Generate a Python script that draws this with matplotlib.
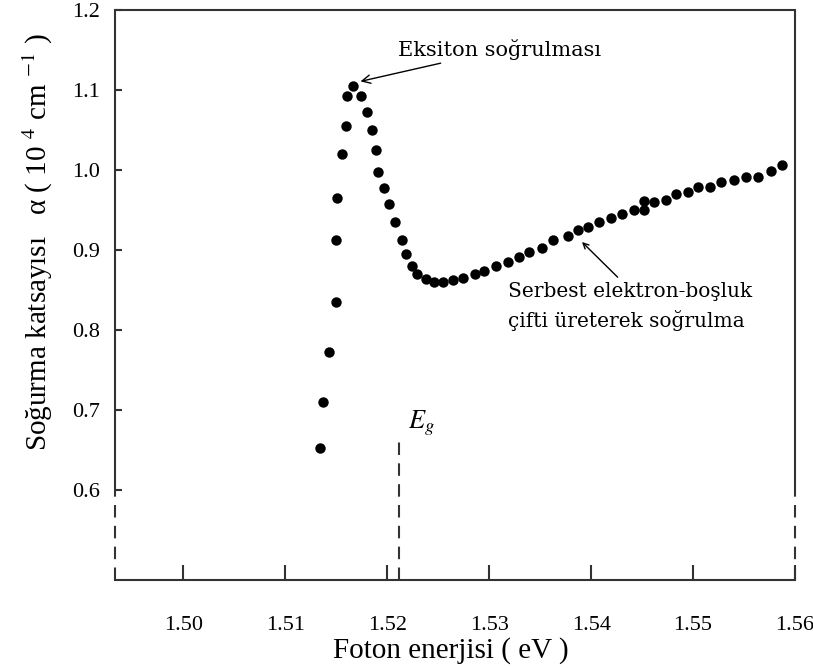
import matplotlib
matplotlib.use("Agg")
import matplotlib.pyplot as plt

plt.rcParams['font.family'] = ['Liberation Serif', 'DejaVu Serif']
plt.rcParams['mathtext.fontset'] = 'stix'

# Photon energy (eV) and absorption coefficient (10^4 cm^-1)
energy = [1.5134, 1.5137, 1.5143, 1.5150, 1.5150, 1.5151, 1.5156, 1.5159, 1.5160,
          1.5166, 1.5174, 1.5180, 1.5185, 1.5189, 1.5191, 1.5197, 1.5202, 1.5208,
          1.5214, 1.5218, 1.5224, 1.5229, 1.5238, 1.5246, 1.5255, 1.5264, 1.5274,
          1.5286, 1.5295, 1.5307, 1.5318, 1.5329, 1.5339, 1.5352, 1.5363, 1.5377,
          1.5387, 1.5397, 1.5408, 1.5419, 1.5430, 1.5442, 1.5452, 1.5452, 1.5462,
          1.5473, 1.5483, 1.5495, 1.5505, 1.5517, 1.5527, 1.5540, 1.5552, 1.5564,
          1.5576, 1.5587]
alpha = [0.6525, 0.710, 0.7725, 0.835, 0.9125, 0.965, 1.020, 1.055, 1.0925,
         1.105, 1.0925, 1.0725, 1.050, 1.025, 0.9975, 0.9775, 0.9575, 0.935,
         0.9125, 0.895, 0.880, 0.870, 0.8638, 0.860, 0.860, 0.8625, 0.865,
         0.870, 0.874, 0.880, 0.885, 0.891, 0.8975, 0.9025, 0.9125, 0.9175,
         0.925, 0.929, 0.935, 0.940, 0.945, 0.950, 0.950, 0.961, 0.960,
         0.9625, 0.970, 0.9725, 0.979, 0.979, 0.985, 0.9875, 0.991, 0.991,
         0.999, 1.006]

x_ticks = [1.50, 1.51, 1.52, 1.53, 1.54, 1.55, 1.56]
x_tick_labels = ["1.50", "1.51", "1.52", "1.53", "1.54", "1.55", "1.56"]
y_ticks = [0.6, 0.7, 0.8, 0.9, 1.0, 1.1, 1.2]
y_tick_labels = ["0.6", "0.7", "0.8", "0.9", "1.0", "1.1", "1.2"]

eg_value = 1.5211
exciton_peak = (1.5171, 1.110)
free_pair_point = (1.5391, 0.910)

xmin, xmax = 1.49328, 1.5600
ymin, ymax = 0.4875, 1.2

W, H = 813, 668
fig = plt.figure(figsize=(W/100, H/100), dpi=100)
ax = fig.add_axes([115/W, 1 - 580/H, (795 - 115)/W, (580 - 10)/H])
ax.set_xlim(xmin, xmax)
ax.set_ylim(ymin, ymax)

ax.plot(energy, alpha, linestyle='none', marker='o', markersize=7.5,
        color='black', markeredgewidth=0)

# spines
for s in ['left', 'right']:
    ax.spines[s].set_visible(False)
for s in ['top', 'bottom']:
    ax.spines[s].set_linewidth(1.5)
    ax.spines[s].set_color('#333333')
for xv in (xmin, xmax):
    ax.plot([xv, xv], [0.6, ymax], color='#333333', lw=1.5, clip_on=False,
            solid_capstyle='butt')
    ax.plot([xv, xv], [ymin, 0.6], color='#333333', lw=1.5, clip_on=False,
            linestyle=(0, (6, 4)))

# Eg line
ax.plot([eg_value, eg_value], [ymin, 0.669], color='#333333', lw=1.5,
        linestyle=(0, (6, 4)))
ax.text(1.5220, 0.6775, r'$E_g$', fontsize=19, ha='left', va='baseline')

ax.set_xticks(x_ticks)
ax.set_xticklabels(x_tick_labels)
ax.set_yticks(y_ticks)
ax.set_yticklabels(y_tick_labels)
ax.tick_params(axis='x', direction='in', length=11, width=1.5, pad=26,
               labelsize=16, color='#333333', top=False)
ax.tick_params(axis='y', direction='in', length=5, width=1.5, pad=11,
               labelsize=16, color='#333333', right=False)

fig.text(451/W, 1 - 651/H, 'Foton enerjisi ( eV )', fontsize=21,
         ha='center', va='center')
fig.text(38/W, 1 - 242/H,
         r'Soğurma katsayısı   α ( 10 $^{4}$ cm $^{-1}$ )', fontsize=21,
         ha='center', va='center', rotation=90)

ax.annotate('Eksiton soğrulması', xy=exciton_peak, xytext=(1.5210, 1.137),
            fontsize=15, family='DejaVu Serif', ha='left', va='bottom',
            arrowprops=dict(arrowstyle='->', color='black', lw=1,
                            shrinkA=0, shrinkB=2))
ax.annotate('', xy=free_pair_point, xytext=(1.5426, 0.866),
            arrowprops=dict(arrowstyle='->', color='black', lw=1,
                            shrinkA=0, shrinkB=0))
ax.text(1.5318, 0.860, 'Serbest elektron-boşluk\nçifti üreterek soğrulma',
        fontsize=14.5, family='DejaVu Serif', ha='left', va='top',
        linespacing=1.55)

fig.savefig('out.png', dpi=100)
